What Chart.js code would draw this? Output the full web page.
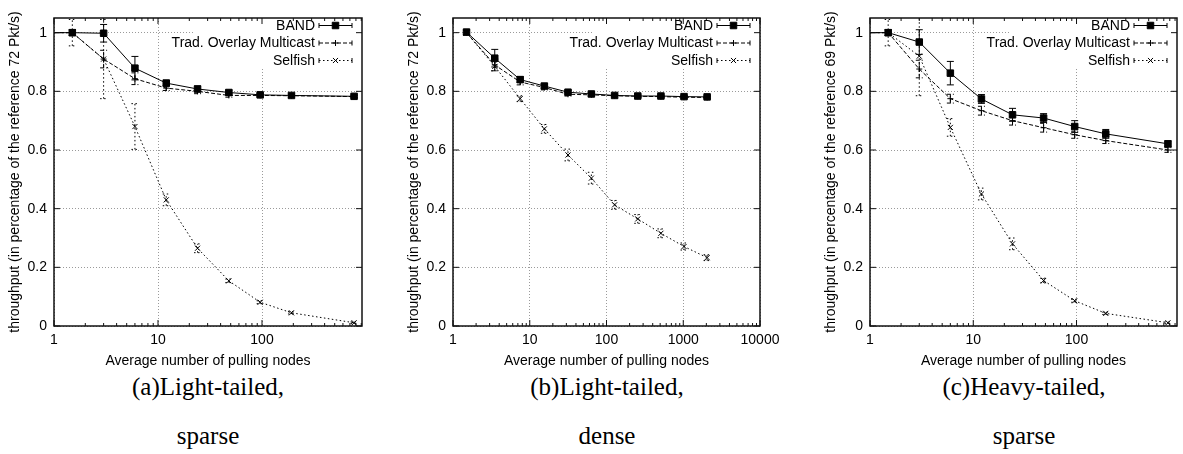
<!DOCTYPE html>
<html><head><meta charset="utf-8">
<script src="https://cdn.jsdelivr.net/npm/chart.js@4.4.1/dist/chart.umd.min.js"></script>
<style>
html,body{margin:0;padding:0;background:#fff;}
body{width:1183px;height:454px;position:relative;overflow:hidden;}
canvas{position:absolute;top:0;}
.cap{position:absolute;font-family:"Liberation Serif","Times New Roman",serif;font-size:25px;line-height:30px;text-align:center;width:300px;color:#000;white-space:nowrap;}
</style></head><body>
<canvas id="ca" width="380" height="370" style="left:0px"></canvas>
<canvas id="cb" width="392" height="370" style="left:399px"></canvas>
<canvas id="cc" width="367" height="370" style="left:816px"></canvas>
<div class="cap" style="left:58px;top:372px">(a)Light-tailed,</div>
<div class="cap" style="left:58px;top:421px">sparse</div>
<div class="cap" style="left:457px;top:372px">(b)Light-tailed,</div>
<div class="cap" style="left:457px;top:421px">dense</div>
<div class="cap" style="left:874px;top:372px">(c)Heavy-tailed,</div>
<div class="cap" style="left:874px;top:421px">sparse</div>
<script>
// ---------- data ----------
const seriesNames = ['BAND', 'Trad. Overlay Multicast', 'Selfish'];
const xTitle = 'Average number of pulling nodes';
const yTitleA = 'throughput (in percentage of the reference 72 Pkt/s)';
const yTitleB = 'throughput (in percentage of the reference 72 Pkt/s)';
const yTitleC = 'throughput (in percentage of the reference 69 Pkt/s)';
const yTicks = [0, 0.2, 0.4, 0.6, 0.8, 1];
const yTickLabels = ['0', '0.2', '0.4', '0.6', '0.8', '1'];
const xTicksA = [1, 10, 100];
const xTickLabelsA = ['1', '10', '100'];
const xTicksB = [1, 10, 100, 1000, 10000];
const xTickLabelsB = ['1', '10', '100', '1000', '10000'];
const xTicksC = [1, 10, 100];
const xTickLabelsC = ['1', '10', '100'];

// (a) Light-tailed, sparse
const xA = [1, 1.5, 3, 6, 12, 24, 48, 96, 192, 768];
const bandA = [1, 1.0, 0.998, 0.879, 0.828, 0.808, 0.796, 0.788, 0.786, 0.783];
const bandErrA = [0, 0.01, 0.03, 0.04, 0.01, 0.01, 0.008, 0.005, 0.005, 0.005];
const tradA = [1, 1.0, 0.91, 0.843, 0.811, 0.80, 0.786, 0.786, 0.785, 0.782];
const tradErrA = [0, 0.01, 0.03, 0.02, 0.008, 0.008, 0.006, 0.005, 0.005, 0.004];
const selfA = [1, 1.0, 0.91, 0.68, 0.43, 0.265, 0.154, 0.081, 0.045, 0.011];
const selfErrA = [0, 0.045, 0.135, 0.078, 0.02, 0.015, 0.006, 0.005, 0.004, 0.003];

// (b) Light-tailed, dense
const xB = [1.5, 3.5, 7.5, 15.5, 31.5, 63.5, 127.5, 255.5, 511.5, 1023.5, 2047.5];
const bandB = [1.002, 0.913, 0.84, 0.818, 0.797, 0.791, 0.786, 0.784, 0.784, 0.782, 0.781];
const bandErrB = [0.008, 0.03, 0.01, 0.008, 0.006, 0.005, 0.004, 0.004, 0.004, 0.004, 0.004];
const tradB = [1.0, 0.89, 0.832, 0.813, 0.79, 0.788, 0.785, 0.783, 0.782, 0.78, 0.779];
const tradErrB = [0.008, 0.02, 0.01, 0.008, 0.006, 0.005, 0.004, 0.004, 0.004, 0.004, 0.004];
const selfB = [1.0, 0.885, 0.775, 0.672, 0.583, 0.504, 0.413, 0.365, 0.316, 0.271, 0.233];
const selfErrB = [0.008, 0.015, 0.01, 0.015, 0.02, 0.02, 0.015, 0.015, 0.015, 0.012, 0.01];

// (c) Heavy-tailed, sparse
const xC = [1, 1.5, 3, 6, 12, 24, 48, 96, 192, 768];
const bandC = [1, 1.0, 0.968, 0.862, 0.774, 0.72, 0.709, 0.68, 0.655, 0.621];
const bandErrC = [0, 0.01, 0.042, 0.04, 0.015, 0.022, 0.015, 0.02, 0.015, 0.01];
const tradC = [1, 1.0, 0.876, 0.775, 0.734, 0.70, 0.676, 0.652, 0.632, 0.60];
const tradErrC = [0, 0.01, 0.03, 0.015, 0.015, 0.015, 0.015, 0.012, 0.01, 0.008];
const selfC = [1, 1.0, 0.92, 0.677, 0.45, 0.28, 0.155, 0.086, 0.043, 0.011];
const selfErrC = [0, 0.045, 0.135, 0.03, 0.02, 0.02, 0.008, 0.005, 0.004, 0.003];

// ---------- styling ----------
const FONT = '"Liberation Sans", Arial, Helvetica, sans-serif';
const STYLES = [
  {pointStyle: 'rect', radius: 4.6, dash: [], fill: '#000'},
  {pointStyle: 'cross', radius: 3, dash: [4, 2], fill: '#fff'},
  {pointStyle: 'crossRot', radius: 3.6, dash: [1.5, 2.5], fill: '#fff'}
];

const gnuplotPlugin = {
  id: 'gnuplotLook',
  beforeDatasetsDraw(chart) {
    const {ctx, chartArea: a} = chart;
    ctx.save();
    ctx.fillStyle = '#fff';
    ctx.fillRect(a.right - 167, a.top, 167, 49);
    ctx.restore();
  },
  afterDatasetsDraw(chart) {
    const {ctx, chartArea: a, scales} = chart;
    const xs = scales.x, ys = scales.y;
    // error bars
    ctx.save();
    ctx.beginPath();
    ctx.rect(a.left, a.top, a.right - a.left, a.bottom - a.top);
    ctx.clip();
    chart.data.datasets.forEach((ds, i) => {
      ctx.strokeStyle = '#000';
      ctx.lineWidth = 1;
      ctx.setLineDash(STYLES[i].dash);
      ds.data.forEach((p, j) => {
        const e = ds.errors[j];
        if (!e) return;
        const x = xs.getPixelForValue(p.x);
        const y1 = ys.getPixelForValue(p.y - e);
        const y2 = ys.getPixelForValue(p.y + e);
        ctx.beginPath();
        ctx.moveTo(x, y1); ctx.lineTo(x, y2);
        ctx.stroke();
        ctx.beginPath();
        ctx.moveTo(x - 3.5, y1); ctx.lineTo(x + 3.5, y1);
        ctx.moveTo(x - 3.5, y2); ctx.lineTo(x + 3.5, y2);
        ctx.stroke();
      });
    });
    ctx.restore();

    // legend
    ctx.save();
    chart.data.datasets.forEach((ds, i) => {
      const st = STYLES[i];
      const y = a.top + 7.5 + i * 17.5;
      ctx.fillStyle = '#000';
      ctx.font = '14px ' + FONT;
      ctx.textAlign = 'right';
      ctx.textBaseline = 'middle';
      ctx.fillText(ds.label, a.right - 47, y + 0.5);
      const x1 = a.right - 43, x2 = a.right - 10;
      ctx.strokeStyle = '#000';
      ctx.lineWidth = 1;
      ctx.setLineDash(st.dash);
      ctx.beginPath();
      ctx.moveTo(x1, y); ctx.lineTo(x2, y);
      ctx.stroke();
      ctx.setLineDash([]);
      ctx.beginPath();
      ctx.moveTo(x1, y - 2.5); ctx.lineTo(x1, y + 2.5);
      ctx.moveTo(x2, y - 2.5); ctx.lineTo(x2, y + 2.5);
      ctx.stroke();
      ctx.fillStyle = st.fill;
      Chart.helpers.drawPoint(ctx, {pointStyle: st.pointStyle, radius: st.radius, borderWidth: 1, rotation: 0}, (x1 + x2) / 2, y);
    });
    ctx.restore();

    // frame
    ctx.save();
    ctx.strokeStyle = '#111';
    ctx.lineWidth = 1.5;
    ctx.setLineDash([]);
    ctx.strokeRect(a.left, a.top, a.right - a.left, a.bottom - a.top);
    // inward tick marks
    ctx.lineWidth = 1;
    ctx.beginPath();
    const lo = Math.floor(Math.log10(xs.min)), hi = Math.ceil(Math.log10(xs.max));
    for (let e = lo; e <= hi; e++) {
      for (let m = 1; m <= 9; m++) {
        const v = m * Math.pow(10, e);
        if (v < xs.min || v > xs.max) continue;
        const px = xs.getPixelForValue(v);
        const len = m === 1 ? 6 : 3;
        ctx.moveTo(px, a.bottom); ctx.lineTo(px, a.bottom - len);
        ctx.moveTo(px, a.top); ctx.lineTo(px, a.top + len);
      }
    }
    ys.ticks.forEach(t => {
      const py = ys.getPixelForValue(t.value);
      ctx.moveTo(a.left, py); ctx.lineTo(a.left + 6, py);
      ctx.moveTo(a.right, py); ctx.lineTo(a.right - 6, py);
    });
    ctx.stroke();
    ctx.restore();
  }
};

function makeDataset(k, xs, ys, errs, hideFirst) {
  const st = STYLES[k];
  return {
    label: seriesNames[k],
    data: xs.map((x, i) => ({x: x, y: ys[i]})),
    errors: errs,
    borderColor: '#000',
    borderWidth: 1,
    borderDash: st.dash,
    backgroundColor: st.fill,
    pointStyle: st.pointStyle,
    pointRadius: (c) => (hideFirst && c.dataIndex === 0) ? 0 : st.radius,
    pointBorderWidth: 1,
    pointBorderColor: '#000',
    pointBackgroundColor: st.fill,
    tension: 0,
    fill: false
  };
}

function makePanel(id, p) {
  return new Chart(document.getElementById(id), {
    type: 'line',
    data: {datasets: [
      makeDataset(0, p.x, p.band, p.bandErr, p.hideFirst),
      makeDataset(1, p.x, p.trad, p.tradErr, p.hideFirst),
      makeDataset(2, p.x, p.self, p.selfErr, p.hideFirst)
    ]},
    options: {
      responsive: false,
      animation: false,
      events: [],
      layout: {padding: {left: 0, top: 18, right: p.padRight, bottom: 0}},
      plugins: {legend: {display: false}, tooltip: {enabled: false}},
      scales: {
        x: {
          type: 'logarithmic', min: 1, max: p.xmax,
          afterBuildTicks: s => { s.ticks = p.xTicks.map(v => ({value: v})); },
          afterFit: s => { s.height = 44; },
          ticks: {autoSkip: false, maxRotation: 0, padding: 6, color: '#000',
                  font: {family: FONT, size: 14}, callback: (v, i) => p.xLabels[i]},
          grid: {drawTicks: false, color: '#9a9a9a', lineWidth: 1},
          border: {display: false, dash: [1, 2]},
          title: {display: true, text: xTitle, color: '#000', font: {family: FONT, size: 14},
                  padding: {top: 0, bottom: 0}}
        },
        y: {
          type: 'linear', min: 0, max: 1.05,
          afterBuildTicks: s => { s.ticks = yTicks.map(v => ({value: v})); },
          afterFit: s => { s.width = 54; },
          ticks: {padding: 7, color: '#000', font: {family: FONT, size: 14},
                  callback: (v, i) => yTickLabels[i]},
          grid: {drawTicks: false, color: '#9a9a9a', lineWidth: 1},
          border: {display: false, dash: [1, 2]},
          title: {display: true, text: p.yTitle, color: '#000', font: {family: FONT, size: 14},
                  padding: {top: 7, bottom: 0}}
        }
      }
    },
    plugins: [gnuplotPlugin]
  });
}

makePanel('ca', {x: xA, band: bandA, bandErr: bandErrA, trad: tradA, tradErr: tradErrA,
  self: selfA, selfErr: selfErrA, hideFirst: true, xmax: 915, xTicks: xTicksA,
  xLabels: xTickLabelsA, yTitle: yTitleA, padRight: 18});
makePanel('cb', {x: xB, band: bandB, bandErr: bandErrB, trad: tradB, tradErr: tradErrB,
  self: selfB, selfErr: selfErrB, hideFirst: false, xmax: 10000, xTicks: xTicksB,
  xLabels: xTickLabelsB, yTitle: yTitleB, padRight: 31});
makePanel('cc', {x: xC, band: bandC, bandErr: bandErrC, trad: tradC, tradErr: tradErrC,
  self: selfC, selfErr: selfErrC, hideFirst: true, xmax: 940, xTicks: xTicksC,
  xLabels: xTickLabelsC, yTitle: yTitleC, padRight: 6});
</script>
</body></html>
